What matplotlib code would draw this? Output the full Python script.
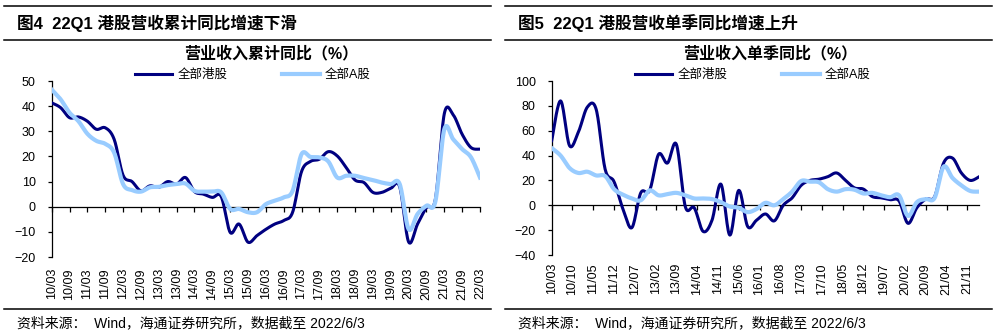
import numpy as np
import matplotlib.pyplot as plt
from matplotlib.lines import Line2D

plt.rcParams['font.family'] = ['Liberation Sans', 'Noto Sans CJK SC']

# --------------------------------
# DATOS (trimestrales, 2010/03 - 2022/03)
# --------------------------------

# Ingresos acumulados, crecimiento interanual (%)
hk_acum = [41.3, 39.4, 35.4, 35.7, 34.0, 30.8, 31.4, 26.8, 12.5, 10.0,
           6.3, 8.3, 7.7, 10.0, 9.0, 11.6, 6.0, 5.0, 3.7, 4.0,
           -10.2, -6.9, -14.1, -11.5, -9.0, -6.9, -5.5, -2.2, 14.0, 18.0,
           18.9, 21.9, 20.2, 15.6, 10.6, 9.6, 5.7, 5.7, 7.3, 7.9,
           -14.0, -6.9, -0.3, 3.0, 37.0, 36.5, 28.8, 23.5, 22.9]
a_acum = [46.6, 42.7, 37.4, 34.0, 29.0, 26.2, 25.0, 21.5, 9.0, 6.6,
          6.0, 7.7, 7.9, 8.6, 9.0, 9.2, 6.3, 6.0, 6.0, 5.7,
          -0.9, -0.9, -2.2, -2.2, 1.0, 2.4, 3.7, 6.3, 20.9, 19.8,
          19.6, 18.0, 11.6, 12.3, 12.3, 11.4, 10.6, 9.6, 9.0, 9.0,
          -8.9, -2.9, 0.4, 2.1, 30.8, 26.8, 22.9, 19.6, 11.6]

# Ingresos de un solo trimestre, crecimiento interanual (%)
hk_trim = [52, 84, 48, 59, 79, 77, 29, 19, -3, -18,
           10, 12, 41, 34, 49, -1, -2, -21, -12, 17,
           -24, 12, -17, -12, -7, -12.5, 0, 6, 16, 20,
           21, 23, 26, 20, 14, 13, 7, 6, 4.5, 3.5,
           -14.5, -2, 5, 7, 34, 38, 26, 20, 23]
a_trim = [46, 40, 30, 26, 27, 24, 23.5, 13, 8.5, 5.5,
          4, 12, 8, 9, 10, 8, 5.5, 5.5, 5, 2.5,
          -1, -2, -5.5, -3, 2, 0, 5, 11, 19.5, 19,
          18.5, 13, 11, 13, 12.5, 9.5, 10, 8, 6.5, 8,
          -8.5, 2.5, 5, 6, 31, 22, 16, 11.5, 11]

etiquetas_izq = ['10/03', '10/09', '11/03', '11/09', '12/03', '12/09',
                 '13/03', '13/09', '14/03', '14/09', '15/03', '15/09',
                 '16/03', '16/09', '17/03', '17/09', '18/03', '18/09',
                 '19/03', '19/09', '20/03', '20/09', '21/03', '21/09',
                 '22/03']
etiquetas_der = ['10/03', '10/10', '11/05', '11/12', '12/07', '13/02',
                 '13/09', '14/04', '14/11', '15/06', '16/01', '16/08',
                 '17/03', '17/10', '18/05', '18/12', '19/07', '20/02',
                 '20/09', '21/04', '21/11']

serie_hk = '全部港股'
serie_a = '全部A股'

# --------------------------------
# FIGURA
# --------------------------------

W, H = 995, 336
fig = plt.figure(figsize=(W / 100, H / 100), dpi=100)

AZUL = '#000080'
CELESTE = '#99CCFF'


def fx(px):
    return px / W


def fy(py):
    return 1 - py / H


def suavizar(x, y, n=16):
    # curva suave tipo Excel (Catmull-Rom)
    p = np.column_stack([x, y]).astype(float)
    p = np.vstack([p[0], p, p[-1]])
    t = np.linspace(0, 1, n, endpoint=False)[:, None]
    partes = []
    for i in range(len(p) - 3):
        p0, p1, p2, p3 = p[i], p[i + 1], p[i + 2], p[i + 3]
        c = 0.5 * (2 * p1 + (-p0 + p2) * t
                   + (2 * p0 - 5 * p1 + 4 * p2 - p3) * t ** 2
                   + (-p0 + 3 * p1 - 3 * p2 + p3) * t ** 3)
        partes.append(c)
    partes.append(p[-2][None, :])
    c = np.vstack(partes)
    return c[:, 0], c[:, 1]


def linea_h(y, x0, x1):
    fig.add_artist(Line2D([fx(x0), fx(x1)], [fy(y), fy(y)],
                          color='black', lw=1.1))


def panel(x0, x1, titulo, subtitulo, caja, hk, a, ylim, yticks,
          paso, etiquetas, y_etiq):
    # reglas y textos del recuadro
    linea_h(6, x0, x1)
    linea_h(40, x0, x1)
    linea_h(309, x0, x1)
    fig.text(fx(x0 + 13), fy(23), titulo, fontsize=12,
             fontweight='bold', va='center')
    fig.text(fx(x0 + 13), fy(323), '资料来源：  Wind，海通证券研究所，数据截至 2022/6/3',
             fontsize=10, va='center')
    centro = (caja[0] + caja[1]) / 2
    fig.text(fx(centro + 5), fy(53), subtitulo, fontsize=11.5,
             fontweight='bold', ha='center', va='center')

    l, r, t, b = caja
    ax = fig.add_axes([fx(l), fy(b), fx(r - l), (b - t) / H])
    ax.patch.set_alpha(0)

    meses = np.arange(len(hk)) * 3
    xs, ys = suavizar(meses, hk)
    ax.plot(xs, ys, color=AZUL, lw=2.2, label=serie_hk, zorder=3)
    xs, ys = suavizar(meses, a)
    ax.plot(xs, ys, color=CELESTE, lw=3.0, label=serie_a, zorder=4)

    ax.set_xlim(0, 144)
    ax.set_ylim(*ylim)
    ax.set_yticks(yticks)

    for lado in ['top', 'right']:
        ax.spines[lado].set_visible(False)
    ax.spines['bottom'].set_position(('data', 0))
    ax.spines['bottom'].set_linewidth(0.9)
    ax.spines['left'].set_linewidth(0.9)

    pos = np.arange(len(etiquetas)) * paso
    ax.set_xticks(pos)
    ax.tick_params(axis='x', direction='out', length=3.3, width=0.9,
                   labelbottom=False)
    ax.tick_params(axis='y', direction='out', length=3, width=0.9,
                   pad=8.5, labelsize=9)

    for p, e in zip(pos, etiquetas):
        ax.text(p, y_etiq, e, transform=ax.get_xaxis_transform(),
                rotation=90, ha='center', va='top', fontsize=9)

    # leyenda
    h, lab = ax.get_legend_handles_labels()
    fig.legend(h, lab, loc='center left',
               bbox_to_anchor=(fx(caja[0] + 83), fy(75)),
               ncol=2, frameon=False, fontsize=9, handlelength=3.0,
               handletextpad=0.4, columnspacing=4.4,
               borderpad=0, borderaxespad=0)
    return ax


# --------------------------------
# PANEL IZQUIERDO: acumulado
# --------------------------------

panel(4, 491, '图4  22Q1 港股营收累计同比增速下滑', '营业收入累计同比（%）',
      (51.7, 480, 81, 257), hk_acum, a_acum, (-20, 50),
      np.arange(-20, 51, 10), 6, etiquetas_izq, -0.063)

# --------------------------------
# PANEL DERECHO: trimestre único
# --------------------------------

panel(505, 992, '图5  22Q1 港股营收单季同比增速上升', '营业收入单季同比（%）',
      (551.7, 979.2, 81, 255), hk_trim, a_trim, (-40, 100),
      np.arange(-40, 101, 20), 7, etiquetas_der, -0.046)

plt.savefig('out.png', dpi=100)
